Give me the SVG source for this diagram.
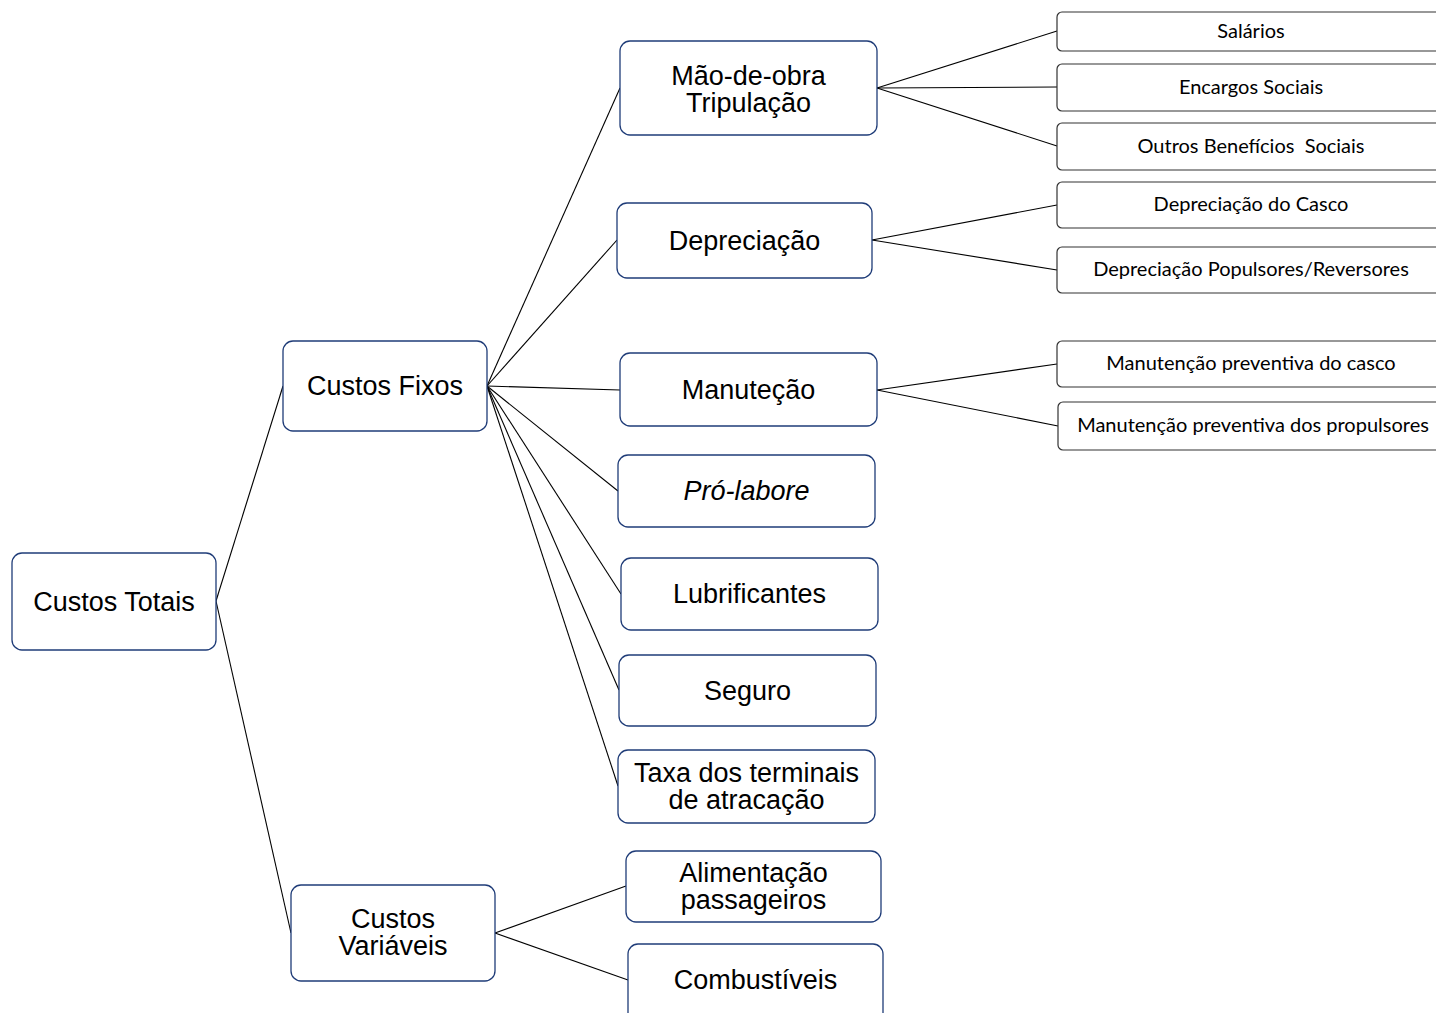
<svg xmlns="http://www.w3.org/2000/svg" width="1436" height="1013" viewBox="0 0 1436 1013">
  <style>
    .box { fill: #ffffff; stroke: #1f3c78; stroke-width: 1.3; }
    .leaf { fill: #ffffff; stroke: #333333; stroke-width: 1.2; }
    .t { font-family: "Liberation Sans", Arial, sans-serif; font-size: 27px; fill: #000; text-anchor: middle; }
    .s { font-family: Lato, "Open Sans", sans-serif; font-size: 20px; fill: #000; text-anchor: middle; }
    .conn line { stroke: #000; stroke-width: 1.1; }
  </style>
  <rect width="1436" height="1013" fill="#ffffff"/>

  <g class="conn" id="connectors">
    <line x1="216" y1="601" x2="283" y2="386"/>
    <line x1="216" y1="601" x2="291" y2="933"/>
    <line x1="487" y1="386" x2="620" y2="88"/>
    <line x1="487" y1="386" x2="617" y2="240"/>
    <line x1="487" y1="386" x2="620" y2="390"/>
    <line x1="487" y1="386" x2="618" y2="491"/>
    <line x1="487" y1="386" x2="621" y2="594"/>
    <line x1="487" y1="386" x2="619" y2="690"/>
    <line x1="487" y1="386" x2="618" y2="786"/>
    <line x1="495" y1="933" x2="626" y2="886"/>
    <line x1="495" y1="933" x2="628" y2="980"/>
    <line x1="877" y1="88" x2="1057" y2="31"/>
    <line x1="877" y1="88" x2="1057" y2="87"/>
    <line x1="877" y1="88" x2="1057" y2="146"/>
    <line x1="872" y1="240" x2="1057" y2="205"/>
    <line x1="872" y1="240" x2="1057" y2="270"/>
    <line x1="877" y1="390" x2="1057" y2="364"/>
    <line x1="877" y1="390" x2="1058" y2="426"/>
  </g>

  <g id="custos-totais">
    <rect class="box" x="12" y="553" width="204" height="97" rx="10"/>
    <text class="t" x="114" y="611">Custos Totais</text>
  </g>
  <g id="custos-fixos">
    <rect class="box" x="283" y="341" width="204" height="90" rx="10"/>
    <text class="t" x="385" y="395">Custos Fixos</text>
  </g>
  <g id="custos-variaveis">
    <rect class="box" x="291" y="885" width="204" height="96" rx="10"/>
    <text class="t" x="393" y="928">Custos</text>
    <text class="t" x="393" y="955">Variáveis</text>
  </g>

  <g id="mao-de-obra">
    <rect class="box" x="620" y="41" width="257" height="94" rx="10"/>
    <text class="t" x="748.5" y="85">Mão-de-obra</text>
    <text class="t" x="748.5" y="112">Tripulação</text>
  </g>
  <g id="depreciacao">
    <rect class="box" x="617" y="203" width="255" height="75" rx="10"/>
    <text class="t" x="744.5" y="250">Depreciação</text>
  </g>
  <g id="manutecao">
    <rect class="box" x="620" y="353" width="257" height="73" rx="10"/>
    <text class="t" x="748.5" y="399">Manuteção</text>
  </g>
  <g id="pro-labore">
    <rect class="box" x="618" y="455" width="257" height="72" rx="10"/>
    <text class="t" x="746.5" y="500" font-style="italic">Pró-labore</text>
  </g>
  <g id="lubrificantes">
    <rect class="box" x="621" y="558" width="257" height="72" rx="10"/>
    <text class="t" x="749.5" y="603">Lubrificantes</text>
  </g>
  <g id="seguro">
    <rect class="box" x="619" y="655" width="257" height="71" rx="10"/>
    <text class="t" x="747.5" y="700">Seguro</text>
  </g>
  <g id="taxa-terminais">
    <rect class="box" x="618" y="750" width="257" height="73" rx="10"/>
    <text class="t" x="746.5" y="782">Taxa dos terminais</text>
    <text class="t" x="746.5" y="809">de atracação</text>
  </g>
  <g id="alimentacao">
    <rect class="box" x="626" y="851" width="255" height="71" rx="10"/>
    <text class="t" x="753.5" y="882">Alimentação</text>
    <text class="t" x="753.5" y="909">passageiros</text>
  </g>
  <g id="combustiveis">
    <rect class="box" x="628" y="944" width="255" height="90" rx="10"/>
    <text class="t" x="755.5" y="989">Combustíveis</text>
  </g>

  <g id="salarios">
    <rect class="leaf" x="1057" y="12" width="400" height="39" rx="5"/>
    <text class="s" x="1251" y="38">Salários</text>
  </g>
  <g id="encargos-sociais">
    <rect class="leaf" x="1057" y="64" width="400" height="47" rx="5"/>
    <text class="s" x="1251" y="94">Encargos Sociais</text>
  </g>
  <g id="outros-beneficios">
    <rect class="leaf" x="1057" y="123" width="400" height="47" rx="5"/>
    <text class="s" x="1251" y="153" xml:space="preserve">Outros Benefícios  Sociais</text>
  </g>
  <g id="depreciacao-casco">
    <rect class="leaf" x="1057" y="182" width="400" height="46" rx="5"/>
    <text class="s" x="1251" y="211">Depreciação do Casco</text>
  </g>
  <g id="depreciacao-propulsores">
    <rect class="leaf" x="1057" y="247" width="400" height="46" rx="5"/>
    <text class="s" x="1251" y="276">Depreciação Populsores/Reversores</text>
  </g>
  <g id="manutencao-casco">
    <rect class="leaf" x="1057" y="341" width="400" height="46" rx="5"/>
    <text class="s" x="1251" y="370">Manutenção preventiva do casco</text>
  </g>
  <g id="manutencao-propulsores">
    <rect class="leaf" x="1058" y="402" width="400" height="48" rx="5"/>
    <text class="s" x="1253" y="432">Manutenção preventiva dos propulsores</text>
  </g>
</svg>
